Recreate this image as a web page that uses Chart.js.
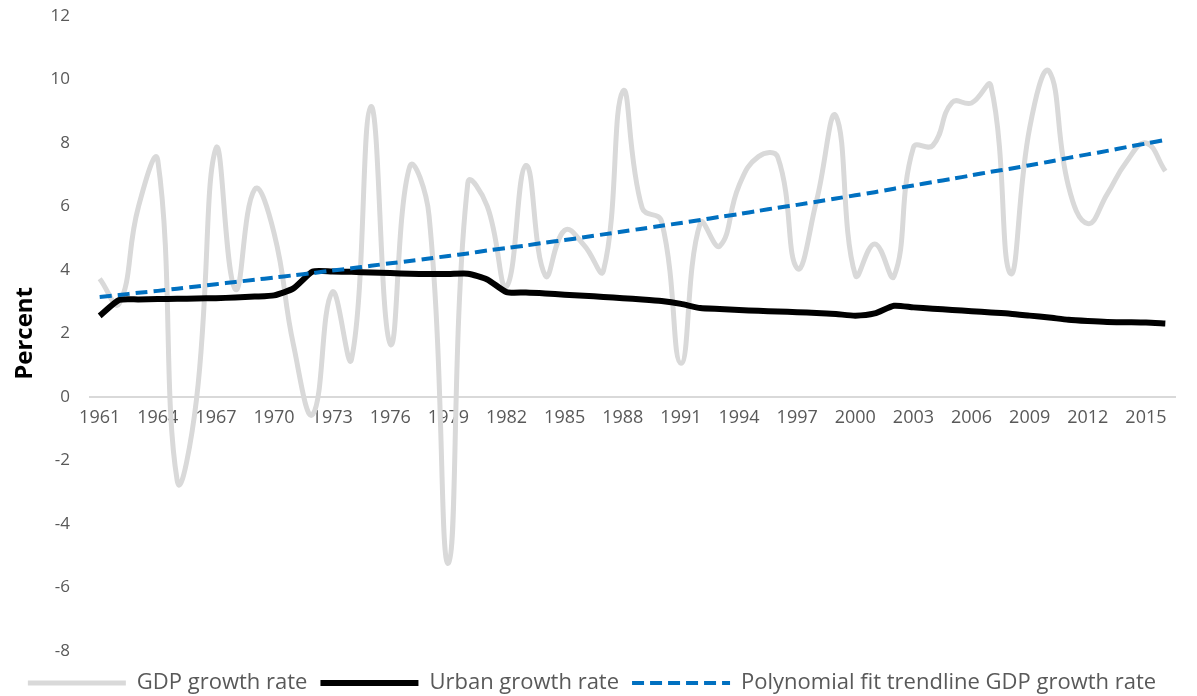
<!DOCTYPE html>
<html>
<head>
<meta charset="utf-8">
<script src="https://cdn.jsdelivr.net/npm/chart.js@4"></script>
<style>
  html, body { margin: 0; padding: 0; background: #fff; }
  #wrap { width: 1197px; height: 696px; }
</style>
</head>
<body>
<div id="wrap"><canvas id="gdpChart" width="1197" height="696"></canvas></div>
<script>
// years on the x axis
const years = [];
for (let y = 1961; y <= 2016; y++) years.push(String(y));

// GDP growth rate, percent
const gdpGrowth = [
  3.72, 2.93, 5.99, 7.45, -2.64, -0.06, 7.83, 3.39, 6.54, 5.16,
  1.64, -0.55, 3.30, 1.19, 9.15, 1.66, 7.25, 5.71, -5.24, 6.74,
  6.01, 3.48, 7.29, 3.82, 5.25, 4.78, 3.97, 9.63, 5.95, 5.53,
  1.06, 5.48, 4.75, 6.66, 7.57, 7.55, 4.05, 6.18, 8.85, 3.84,
  4.82, 3.80, 7.86, 7.92, 9.28, 9.26, 9.80, 3.89, 8.48, 10.26,
  6.64, 5.46, 6.39, 7.41, 8.00, 7.11
];

// urban population growth rate, percent
const urbanGrowth = [
  2.55, 3.05, 3.07, 3.08, 3.09, 3.10, 3.11, 3.13, 3.16, 3.20,
  3.42, 3.95, 3.95, 3.94, 3.92, 3.90, 3.88, 3.87, 3.87, 3.88,
  3.70, 3.30, 3.29, 3.26, 3.22, 3.19, 3.15, 3.11, 3.07, 3.02,
  2.93, 2.80, 2.77, 2.74, 2.71, 2.69, 2.67, 2.64, 2.61, 2.56,
  2.63, 2.87, 2.82, 2.78, 2.74, 2.70, 2.66, 2.62, 2.56, 2.50,
  2.43, 2.39, 2.36, 2.35, 2.34, 2.31
];

// polynomial trendline of GDP growth
const gdpTrend = [
  3.15, 3.21, 3.28, 3.34, 3.41, 3.48, 3.55, 3.62, 3.69, 3.76,
  3.83, 3.90, 3.98, 4.05, 4.13, 4.21, 4.28, 4.36, 4.44, 4.52,
  4.61, 4.69, 4.77, 4.86, 4.94, 5.03, 5.12, 5.21, 5.30, 5.39,
  5.48, 5.57, 5.67, 5.76, 5.86, 5.96, 6.05, 6.15, 6.25, 6.35,
  6.45, 6.56, 6.66, 6.77, 6.87, 6.98, 7.09, 7.19, 7.30, 7.41,
  7.53, 7.64, 7.75, 7.87, 7.98, 8.10
];

const yTicks = [-8, -6, -4, -2, 0, 2, 4, 6, 8, 10, 12];

const tickColor = '#595959';
const fontFamily = "'Open Sans', 'Noto Sans', sans-serif";

new Chart(document.getElementById('gdpChart'), {
    type: 'line',
    data: {
        labels: years,
        datasets: [
            {
                label: 'GDP growth rate',
                data: gdpGrowth,
                borderColor: '#d9d9d9',
                backgroundColor: '#d9d9d9',
                borderWidth: 5,
                tension: 0.45,
                pointRadius: 0,
                order: 3
            },
            {
                label: 'Urban growth rate',
                data: urbanGrowth,
                borderColor: '#000000',
                backgroundColor: '#000000',
                borderWidth: 6,
                tension: 0.2,
                pointRadius: 0,
                order: 2
            },
            {
                label: 'Polynomial fit trendline GDP growth rate',
                data: gdpTrend,
                borderColor: '#0070c0',
                backgroundColor: '#0070c0',
                borderWidth: 4,
                borderDash: [12, 6],
                tension: 0.3,
                pointRadius: 0,
                order: 1
            }
        ]
    },
    options: {
        responsive: false,
        animation: false,
        layout: { padding: { left: 9, right: 22, top: 16, bottom: -8 } },
        plugins: {
            tooltip: { enabled: false },
            legend: {
                position: 'bottom',
                // empty title only pushes the legend row down a little
                title: { display: true, text: '', font: { size: 1 }, padding: { top: 7, bottom: 0 } },
                labels: {
                    usePointStyle: true,
                    pointStyleWidth: 98,
                    boxWidth: 98,
                    color: tickColor,
                    padding: 13,
                    font: { family: fontFamily, size: 22 },
                    // keep dataset order and show the dash / width of each line
                    generateLabels: function (chart) {
                        return chart.data.datasets.map((ds, i) => ({
                            text: ds.label,
                            datasetIndex: i,
                            fillStyle: ds.borderColor,
                            strokeStyle: ds.borderColor,
                            lineWidth: ds.borderWidth,
                            lineDash: ds.borderDash || [],
                            lineCap: 'butt',
                            pointStyle: 'line',
                            fontColor: tickColor,
                            hidden: false
                        }));
                    }
                }
            }
        },
        scales: {
            x: {
                position: { y: 0 },
                offset: true,
                afterFit: function (scale) {
                    scale.height = 0;
                },
                grid: { display: false, drawTicks: false },
                border: { display: true, color: '#d9d9d9', width: 2 },
                ticks: {
                    autoSkip: false,
                    maxRotation: 0,
                    padding: 10,
                    color: tickColor,
                    font: { family: fontFamily, size: 18 },
                    callback: function (val, idx) {
                        return idx % 3 === 0 ? years[idx] : '';
                    }
                }
            },
            y: {
                min: -8,
                max: 12,
                afterBuildTicks: function (scale) {
                    scale.ticks = yTicks.map(v => ({ value: v }));
                },
                afterFit: function (scale) {
                    scale.width = 81;
                },
                grid: { display: false, drawTicks: true, tickLength: 16 },
                border: { display: false },
                ticks: {
                    padding: 4,
                    color: tickColor,
                    font: { family: fontFamily, size: 17 }
                },
                title: {
                    display: true,
                    text: 'Percent',
                    color: '#000000',
                    padding: 2,
                    font: { family: fontFamily, size: 24, weight: 'bold' }
                }
            }
        }
    }
});
</script>
</body>
</html>
